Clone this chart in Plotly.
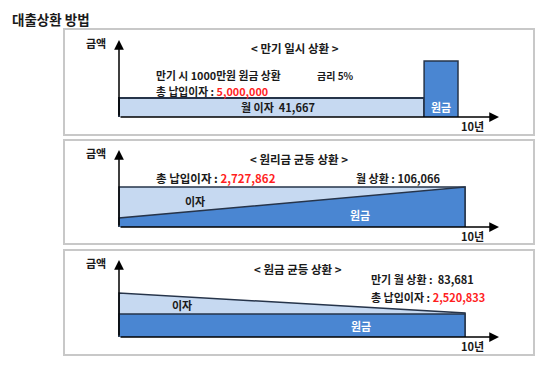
import plotly.graph_objects as go

# page body has an 8px margin, so the figure is drawn 8px smaller and offset
OFF = 8
W, H = 550 - OFF, 365 - OFF

# ---------------- data (schematic amounts, arbitrary units) ----------------
loan_years = 10
# Panel 1: 만기 일시 상환 (bullet repayment)
p1_interest_x = [0, 9]          # monthly interest band (years)
p1_interest_level = 1.9
p1_principal_x = [9, 10]        # principal repaid at maturity
p1_principal_level = 5.6
# Panel 2: 원리금 균등 상환 (equal payment)
p2_x = [0, 10]
p2_total = [4.0, 4.0]
p2_principal = [0.9, 4.0]
# Panel 3: 원금 균등 상환 (equal principal)
p3_x = [0, 10]
p3_total = [4.4, 2.4]
p3_principal = [2.3, 2.3]

# text values
rate = "5%"
p1_total_interest = "5,000,000"
p1_monthly_interest = "41,667"
p2_total_interest = "2,727,862"
p2_monthly_payment = "106,066"
p3_last_payment = "83,681"
p3_total_interest = "2,520,833"

# ---------------- styles ----------------
LIGHT = "#c6d9f1"
DARK = "#4a86d2"
EDGE = "#26344a"
RED = "#ff1f1f"
FONT = "Noto Sans CJK KR"


def fx(px):
    return (px - OFF) / W


def fy(py):
    return 1 - (py - OFF) / H


panels = [
    dict(box=(29, 135), base=117, top=40, x10=458),
    dict(box=(140, 244), base=227, top=150, x10=465),
    dict(box=(250, 355), base=337, top=260, x10=465),
]
X0, XEND = 119, 499
PAD = 3
Y_MAX = 7.7

fig = go.Figure()
layout = {}
shapes = []
annotations = []

for i, p in enumerate(panels):
    sfx = "" if i == 0 else str(i + 1)
    xs = (p["x10"] - X0) / loan_years
    ys = (p["base"] - p["top"]) / Y_MAX
    xmax = (XEND - X0) / xs
    layout["xaxis" + sfx] = dict(domain=[fx(X0 - PAD), fx(XEND)], range=[-PAD / xs, xmax],
                                 visible=False, fixedrange=True, anchor="y" + sfx)
    layout["yaxis" + sfx] = dict(domain=[fy(p["base"] + PAD), fy(p["top"])], range=[-PAD / ys, Y_MAX],
                                 visible=False, fixedrange=True, anchor="x" + sfx)
    p["xmax"] = xmax
    p["sfx"] = sfx
    # panel border
    shapes.append(dict(type="rect", xref="paper", yref="paper",
                       x0=fx(64), x1=fx(534), y0=fy(p["box"][1]), y1=fy(p["box"][0]),
                       line=dict(color="#c8c8c8", width=2), fillcolor="rgba(0,0,0,0)", layer="below"))


def poly(xv, yv, color, sfx, w=1.5):
    fig.add_trace(go.Scatter(x=xv, y=yv, fill="toself", fillcolor=color, mode="lines",
                             line=dict(color=EDGE, width=w), xaxis="x" + sfx, yaxis="y" + sfx,
                             hoverinfo="skip", showlegend=False))


# Panel 1
s = panels[0]["sfx"]
poly([p1_interest_x[0], p1_interest_x[0], p1_interest_x[1], p1_interest_x[1]],
     [0, p1_interest_level, p1_interest_level, 0], LIGHT, s, 2)
poly([p1_principal_x[0], p1_principal_x[0], p1_principal_x[1], p1_principal_x[1]],
     [0, p1_principal_level, p1_principal_level, 0], DARK, s, 1.5)
# Panel 2
s = panels[1]["sfx"]
poly([p2_x[0], p2_x[0], p2_x[1], p2_x[1]], [0, p2_total[0], p2_total[1], 0], LIGHT, s)
poly([p2_x[0], p2_x[0], p2_x[1], p2_x[1]], [0, p2_principal[0], p2_principal[1], 0], DARK, s)
# Panel 3
s = panels[2]["sfx"]
poly([p3_x[0], p3_x[0], p3_x[1], p3_x[1]], [0, p3_total[0], p3_total[1], 0], LIGHT, s)
poly([p3_x[0], p3_x[0], p3_x[1], p3_x[1]], [0, p3_principal[0], p3_principal[1], 0], DARK, s)

# axes arrows
for p in panels:
    s = p["sfx"]
    for (x, y) in [(p["xmax"], 0), (0, Y_MAX)]:
        annotations.append(dict(x=x, y=y, ax=0, ay=0, xref="x" + s, yref="y" + s,
                                axref="x" + s, ayref="y" + s, text="", showarrow=True,
                                arrowhead=2, arrowsize=1.3, arrowwidth=1.5, arrowcolor="black",
                                standoff=0, startstandoff=0))


def txt(text, x, y, anchor="left", size=11, color="#1a1a1a", yanchor="middle"):
    annotations.append(dict(text="<b>" + text + "</b>", x=fx(x), y=fy(y), xref="paper", yref="paper",
                            xanchor=anchor, yanchor=yanchor, showarrow=False, align="left",
                            borderpad=0, font=dict(family=FONT, size=size, color=color)))


red = lambda v: '<span style="color:%s">%s</span>' % (RED, v)

txt("대출상환 방법", 11, 8, size=13.5, yanchor="top")
# panel 1
txt("금액", 85, 43)
txt("&lt; 만기 일시 상환 &gt;", 295, 48, "center", size=11.5)
txt("만기 시 1000만원 원금 상환", 155, 75, size=10.8)
txt("총 납입이자 : " + red(p1_total_interest), 155, 91, size=10.8)
txt("금리 " + rate, 316, 75, size=10)
txt("월 이자  " + p1_monthly_interest, 278, 107, "center")
txt("원금", 441, 107, "center", color="white")
txt("10년", 472, 126, "center")
# panel 2
txt("금액", 85, 153)
txt("&lt; 원리금 균등 상환 &gt;", 299, 159, "center", size=11.5)
txt("총 납입이자 : " + red(p2_total_interest), 155, 178, size=11.5)
txt("월 상환 : " + p2_monthly_payment, 355, 178)
txt("이자", 195, 201, "center")
txt("원금", 360, 215, "center", color="white")
txt("10년", 472, 236, "center")
# panel 3
txt("금액", 85, 263)
txt("&lt; 원금 균등 상환 &gt;", 298, 269, "center", size=11.5)
txt("만기 월 상환 :  " + p3_last_payment, 370, 279)
txt("총 납입이자 : " + red(p3_total_interest), 370, 297)
txt("이자", 182, 305, "center")
txt("원금", 361, 326, "center", color="white")
txt("10년", 472, 346, "center")

fig.update_layout(width=W, height=H, margin=dict(l=0, r=0, t=0, b=0),
                  paper_bgcolor="white", plot_bgcolor="white",
                  shapes=shapes, annotations=annotations, showlegend=False, **layout)
fig.write_html("out.html", config={"displayModeBar": False})
